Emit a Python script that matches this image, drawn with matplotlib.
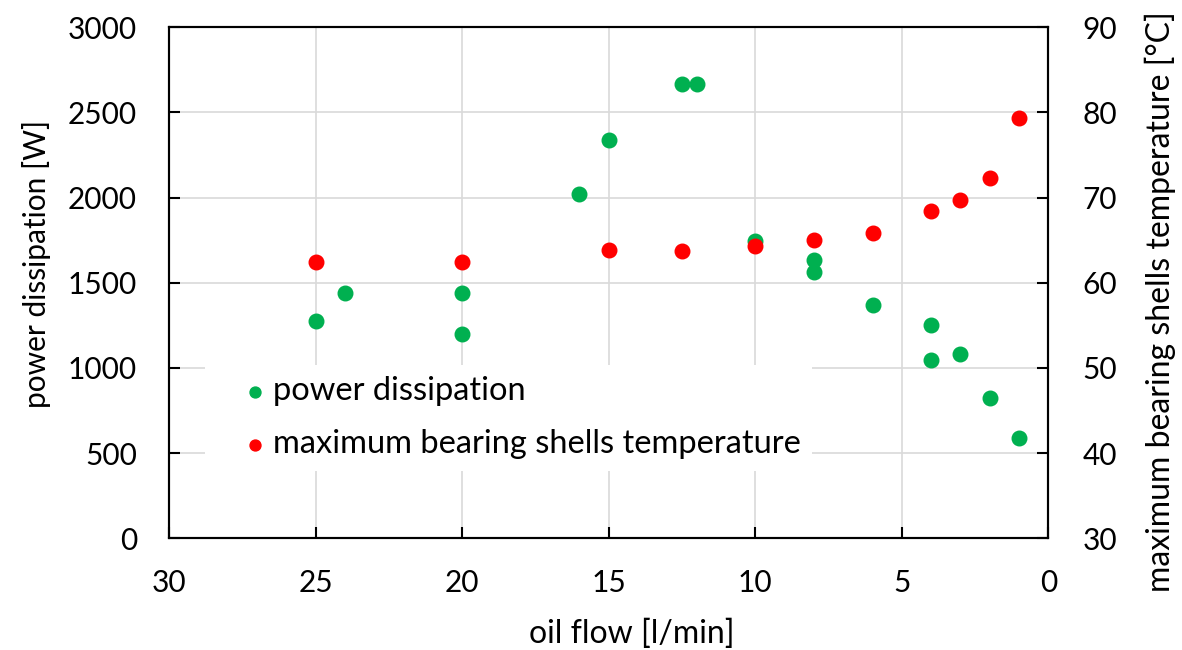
import numpy as np
import matplotlib.pyplot as plt

plt.rcParams['font.family'] = ['Lato', 'DejaVu Sans']

# power dissipation [W] vs oil flow [l/min]
flow_p = [25, 24, 20, 20, 16, 15, 12.5, 12, 10, 8, 8, 6, 4, 4, 3, 2, 1]
power = [1275, 1440, 1440, 1200, 2020, 2340, 2665, 2665, 1745, 1635, 1565, 1370, 1250, 1045, 1080, 822, 587]

# maximum bearing shells temperature [°C]
flow_t = [25, 20, 15, 12.5, 10, 8, 6, 4, 3, 2, 1]
temp = [62.4, 62.4, 63.8, 63.7, 64.3, 65.0, 65.8, 68.4, 69.7, 72.3, 79.4]

green = '#00B050'
red = '#FF0000'

fig, ax = plt.subplots(figsize=(11.82, 6.5), dpi=100)
fig.subplots_adjust(left=0.143, right=0.887, bottom=0.172, top=0.958)
ax2 = ax.twinx()

tfs = 21.5   # tick labels
lfs = 23     # axis labels / legend

ax.scatter(flow_p, power, s=110, color=green, zorder=3, label='power dissipation')
ax2.scatter(flow_t, temp, s=110, color=red, zorder=3, label='maximum bearing shells temperature')

ax.set_xlim(30, 0)
ax.set_ylim(0, 3000)
ax2.set_ylim(30, 90)
ax.set_xticks(np.arange(30, -1, -5))
ax.set_yticks(np.arange(0, 3001, 500))
ax2.set_yticks(np.arange(30, 91, 10))

ax.grid(True, color='#d9d9d9', linewidth=1.2, zorder=0)
ax.set_axisbelow(True)

for a in (ax, ax2):
    for sp in a.spines.values():
        sp.set_linewidth(1.5)
        sp.set_color('black')
ax.tick_params(axis='both', direction='in', length=8, width=1.5, labelsize=tfs)
ax.tick_params(axis='y', pad=23)
ax.tick_params(axis='x', pad=22)
ax2.tick_params(axis='y', direction='in', length=8, width=1.5, labelsize=tfs, pad=24.5)

ax.set_xlabel('oil flow [l/min]', fontsize=lfs)
ax.set_ylabel('power dissipation [W]', fontsize=21.5)
ax2.set_ylabel('maximum bearing shells temperature [°C]', fontsize=lfs)
ax.xaxis.set_label_coords(0.526, -0.158)
ax.yaxis.set_label_coords(-0.134, 0.537)
ax2.yaxis.set_label_coords(1.110, 0.464)

h1, l1 = ax.get_legend_handles_labels()
h2, l2 = ax2.get_legend_handles_labels()
leg = ax2.legend(h1 + h2, l1 + l2, loc='upper left', bbox_to_anchor=(0.041, 0.339),
                 fontsize=23.5, frameon=True, facecolor='white', edgecolor='none',
                 framealpha=1, handlelength=2.35, handletextpad=-0.62, markerscale=0.75,
                 labelspacing=0.7, borderpad=0.35, borderaxespad=0)
leg.get_frame().set_boxstyle('square', pad=0)

fig.savefig('out.png', dpi=100)
